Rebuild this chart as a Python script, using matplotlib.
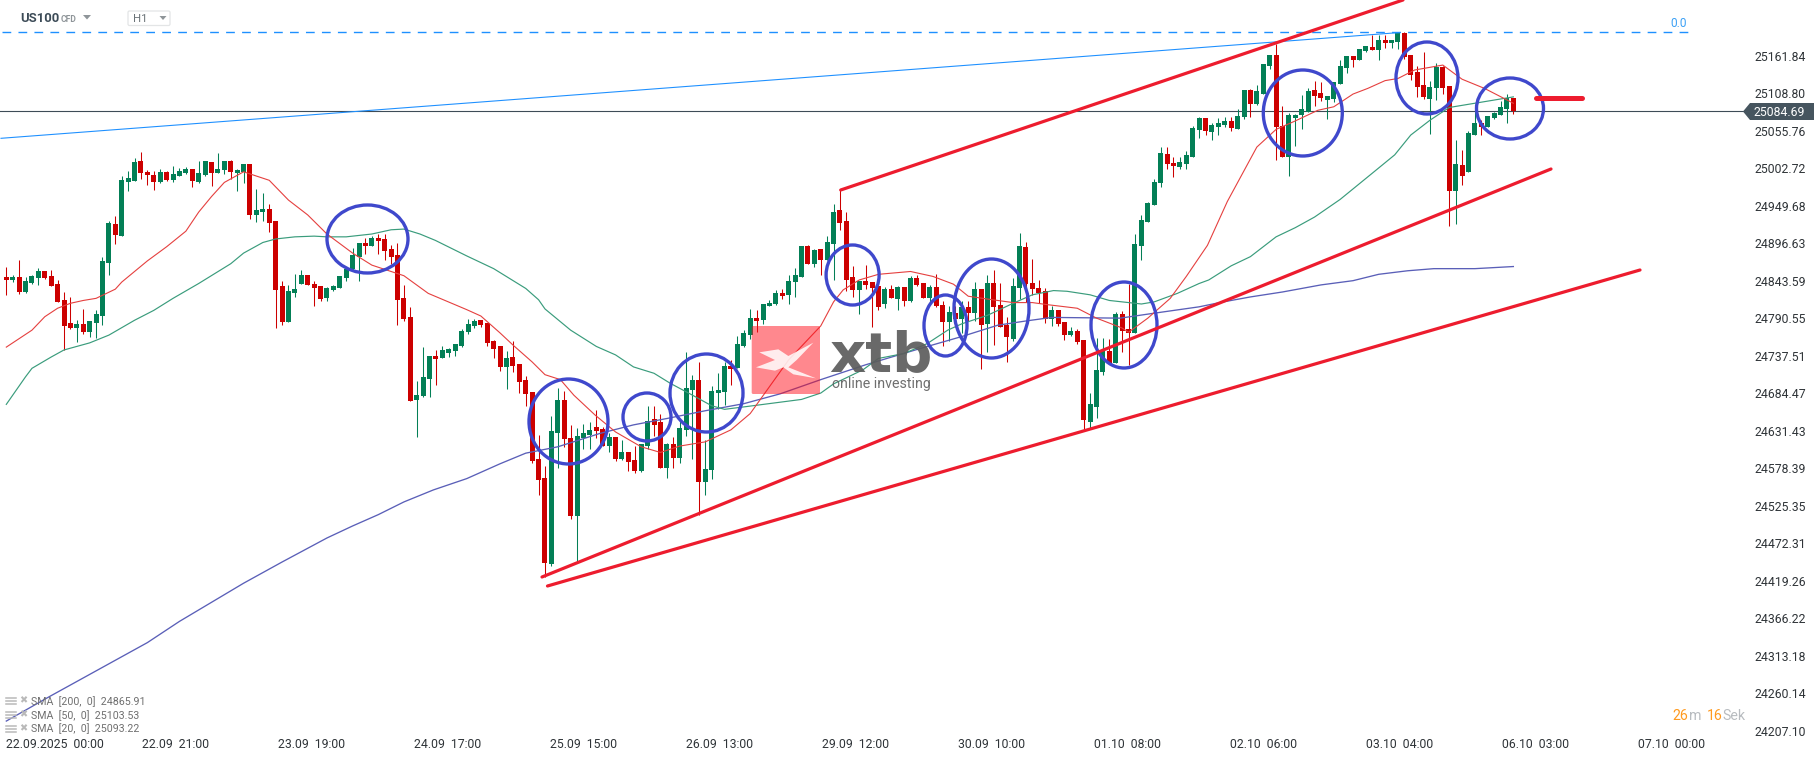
import numpy as np
import matplotlib.pyplot as plt
from matplotlib.patches import Ellipse, Polygon, FancyBboxPatch
from matplotlib.transforms import ScaledTranslation

plt.rcParams['font.family'] = ['Roboto', 'DejaVu Sans']
plt.rcParams['lines.scale_dashes'] = False

# hourly candles
opens = np.array([
    24850,24846,24850,24829,24842,24849,24859,24851,24840,24818,
    24785,24778,24784,24772,24785,24795,24870,24925,24908,24984,
    24986,25014,24999,24994,24984,24999,24987,24993,24997,25003,
    24984,24994,25013,24997,25001,25014,24997,24999,25010,24938,
    24942,24946,24929,24837,24786,24827,24840,24853,24840,24837,
    24820,24832,24834,24849,24861,24878,24898,24894,24905,24904,
    24890,24881,24820,24793,24676,24682,24706,24738,24736,24743,
    24746,24753,24772,24781,24789,24785,24760,24753,24723,24737,
    24727,24705,24688,24593,24566,24444,24630,24676,24622,24512,
    24622,24627,24638,24635,24611,24624,24593,24603,24591,24576,
    24611,24649,24645,24580,24614,24594,24634,24690,24705,24560,
    24577,24686,24688,24724,24722,24753,24768,24792,24789,24809,
    24812,24828,24825,24843,24850,24894,24869,24890,24874,24897,
    24945,24929,24850,24832,24845,24843,24837,24812,24833,24819,
    24836,24816,24849,24842,24820,24836,24811,24787,24799,24791,
    24808,24799,24833,24784,24842,24811,24782,24762,24835,24893,
    24842,24835,24830,24791,24804,24787,24768,24774,24761,24645,
    24666,24716,24746,24729,24798,24777,24771,24894,24928,24952,
    24983,25024,25011,25006,25010,25020,25058,25075,25055,25062,
    25065,25071,25059,25076,25115,25095,25109,25149,25164,25064,
    25020,25075,25079,25084,25115,25110,25100,25102,25123,25146,
    25163,25157,25170,25175,25171,25185,25181,25182,25195,25164,
    25140,25122,25102,25117,25147,25120,24972,25009,24999,25051,
    25068,25062,25075,25079,25088,25103])
highs = np.array([
    24864,24853,24874,24850,24853,24863,24859,24860,24846,24829,
    24822,24789,24805,24788,24803,24878,24929,24936,24993,25000,
    25018,25027,25001,25000,25003,25000,25007,25004,25006,25003,
    25014,25014,25013,25025,25014,25016,25003,25010,25010,24975,
    24969,24953,24929,24844,24839,24854,24860,24853,24844,24837,
    24836,24839,24851,24861,24891,24898,24905,24908,24911,24911,
    24895,24898,24839,24808,24703,24751,24738,24747,24753,24750,
    24755,24777,24791,24791,24789,24785,24761,24753,24746,24760,
    24727,24710,24688,24627,24583,24654,24693,24689,24641,24637,
    24642,24645,24662,24638,24630,24624,24620,24603,24611,24614,
    24668,24668,24656,24615,24624,24649,24744,24712,24730,24620,
    24696,24714,24730,24733,24767,24775,24805,24804,24812,24818,
    24832,24833,24853,24863,24894,24896,24890,24890,24908,24953,
    24973,24942,24866,24845,24867,24843,24837,24836,24839,24837,
    24836,24852,24853,24842,24839,24854,24816,24809,24809,24816,
    24816,24843,24833,24853,24860,24842,24794,24849,24912,24900,
    24876,24846,24835,24809,24804,24787,24779,24777,24761,24686,
    24764,24764,24762,24801,24802,24840,24911,24938,24956,24989,
    25034,25034,25020,25020,25028,25064,25076,25075,25068,25075,
    25076,25076,25088,25115,25116,25122,25151,25164,25180,25092,
    25082,25081,25108,25117,25127,25126,25106,25126,25157,25163,
    25163,25173,25177,25192,25192,25192,25185,25197,25197,25164,
    25149,25168,25127,25153,25149,25120,25044,25030,25057,25086,
    25072,25078,25083,25099,25109,25103])
lows = np.array([
    24825,24843,24826,24827,24840,24839,24847,24837,24815,24747,
    24777,24758,24769,24765,24764,24782,24853,24897,24908,24972,
    24986,24989,24980,24973,24983,24986,24984,24993,24996,24977,
    24983,24993,24979,24997,24996,24989,24972,24983,24932,24928,
    24929,24914,24778,24782,24786,24822,24840,24839,24809,24816,
    24816,24830,24834,24844,24860,24844,24883,24894,24883,24874,
    24868,24782,24788,24675,24624,24680,24680,24697,24736,24737,
    24739,24751,24770,24778,24780,24753,24736,24717,24692,24716,
    24686,24668,24587,24542,24426,24441,24580,24610,24508,24448,
    24607,24607,24622,24611,24603,24590,24591,24576,24573,24574,
    24607,24625,24580,24566,24580,24587,24625,24593,24514,24542,
    24564,24664,24669,24697,24722,24751,24763,24772,24784,24809,
    24811,24819,24812,24822,24850,24869,24864,24853,24874,24846,
    24917,24830,24822,24798,24833,24779,24803,24806,24820,24803,
    24809,24815,24837,24820,24813,24808,24753,24760,24779,24771,
    24788,24788,24720,24744,24754,24779,24730,24760,24819,24815,
    24825,24813,24785,24781,24781,24761,24767,24755,24632,24635,
    24651,24712,24729,24729,24744,24726,24771,24874,24928,24952,
    24977,25003,24992,25003,25003,25020,25047,25051,25044,25051,
    25062,25057,25059,25074,25076,25093,25109,25144,25016,25020,
    24993,25035,25059,25084,25092,25099,25074,25098,25123,25139,
    25147,25157,25168,25171,25157,25174,25174,25173,25159,25129,
    25105,25102,25052,25100,25109,24922,24925,24980,24999,25051,
    25051,25062,25074,25079,25068,25081])
closes = np.array([
    24846,24850,24829,24844,24851,24859,24849,24837,24815,24781,
    24778,24784,24772,24788,24798,24873,24926,24909,24987,24990,
    25013,24997,24994,24984,24999,24987,24996,25000,25003,24986,
    24997,25014,24997,25003,25014,24999,25001,25010,24938,24945,
    24946,24926,24832,24786,24830,24833,24853,24839,24834,24819,
    24834,24837,24851,24861,24881,24898,24894,24905,24901,24887,
    24878,24818,24791,24675,24683,24709,24738,24734,24747,24748,
    24755,24774,24784,24788,24782,24757,24748,24723,24736,24724,
    24702,24685,24590,24563,24446,24632,24676,24621,24512,24625,
    24630,24634,24632,24611,24624,24593,24603,24589,24576,24614,
    24647,24641,24580,24614,24594,24637,24693,24705,24560,24579,
    24689,24690,24724,24720,24755,24771,24792,24788,24812,24813,
    24828,24823,24845,24853,24894,24869,24888,24874,24900,24942,
    24927,24846,24832,24845,24839,24835,24808,24833,24820,24836,
    24816,24849,24839,24820,24836,24809,24787,24801,24791,24808,
    24799,24833,24782,24842,24808,24779,24765,24837,24894,24840,
    24833,24828,24791,24804,24784,24768,24774,24758,24648,24671,
    24719,24746,24729,24798,24774,24771,24897,24931,24955,24984,
    25025,25010,25007,25013,25023,25061,25075,25057,25065,25068,
    25071,25061,25078,25115,25095,25113,25151,25164,25062,25020,
    25079,25079,25088,25113,25106,25103,25106,25126,25149,25163,
    25157,25173,25177,25171,25185,25181,25185,25197,25162,25136,
    25119,25105,25119,25147,25117,24972,25010,24993,25054,25068,
    25062,25078,25082,25091,25103,25085])

# moving averages, sampled at candle numbers
sma20_idx = [0,4,6,8,10,12,14,17,18,22,25,28,30,32,34,37,41,44,47,50,
             54,57,62,65.8,71.8,74,77,79,82,84,86.4,88.5,91.8,95,99,102,105,109,113,116,
             119,122,127,129,130.5,133,136,141,144.5,147.7,150,153,157,160,162.4,167,170,174,175,178,
             181.5,184,187.3,190.4,195,198,201,204.5,207,210,212.3,215,217,219.6,224,227,230.5,235]
sma20_val = [24751,24775,24794,24806,24813,24817,24820,24833,24843,24873,24893,24915,24942,24964,24984,24999,24987,24959,24938,24911,
             24884,24867,24852,24827,24804,24795,24771,24754,24730,24712,24705,24683,24655,24631,24610,24602,24611,24617,24634,24657,
             24695,24733,24781,24815,24832,24846,24854,24858,24851,24840,24823,24819,24814,24814,24811,24806,24792,24778,24772,24792,
             24820,24851,24895,24957,25034,25059,25071,25086,25091,25109,25117,25128,25131,25143,25150,25130,25117,25096]
sma50_idx = [0,3,4,7,9,13,16,20,23,26,30,35,37,40,42,45,48,50,53,57,
             60,62,64.5,66.9,71.8,76,81,83,84,88,92,95,97.8,101,103.5,107,110,112,115.5,124,
             127,129,133.6,136,140,143.6,146.8,149,153,157,160,163.3,165.4,169,172,177,179,182.6,186,187.5,
             191,194,198,201,204,208,213,216.5,219,222,225,229,235]
sma50_val = [24670,24709,24721,24737,24747,24757,24768,24789,24803,24820,24841,24869,24884,24899,24904,24907,24908,24907,24907,24911,
             24917,24918,24911,24902,24880,24862,24834,24818,24805,24775,24752,24740,24723,24714,24700,24683,24668,24663,24667,24677,
             24686,24699,24719,24735,24742,24756,24775,24784,24796,24813,24825,24831,24830,24825,24817,24812,24815,24827,24841,24846,
             24866,24879,24907,24920,24935,24960,24997,25023,25051,25072,25090,25096,25105]
sma200_idx = [0,6.8,13,16,22,27,32,37,43,50,54,58,62,66.6,71.8,77,81,86,92.6,97.8,
              103,109,115,120.7,127,134,142.5,149,154.6,159,163,173.7,179,186,189.2,194,199,205,210,214,
              218.5,222.6,229,235]
sma200_val = [24222,24257,24288,24303,24333,24363,24390,24417,24447,24481,24498,24514,24532,24549,24565,24586,24601,24610,24629,24641,
              24650,24661,24671,24685,24705,24726,24749,24766,24782,24788,24793,24792,24799,24808,24814,24822,24829,24839,24845,24854,
              24859,24862,24862,24865]

price_ticks = [25161.84,25108.80,25055.76,25002.72,24949.68,24896.63,24843.59,24790.55,24737.51,24684.47,
               24631.43,24578.39,24525.35,24472.31,24419.26,24366.22,24313.18,24260.14,24207.10]
last_price = 25084.69
time_labels = ['22.09.2025  00:00','22.09  21:00','23.09  19:00','24.09  17:00','25.09  15:00','26.09  13:00',
               '29.09  12:00','30.09  10:00','01.10  08:00','02.10  06:00','03.10  04:00','06.10  03:00','07.10  00:00']
time_label_idx = [21.2 * k for k in range(13)]
legend_rows = ['SMA  [200,  0]  24865.91', 'SMA  [50,  0]  25103.53', 'SMA  [20,  0]  25093.22']

RED = '#cc0000'
GREEN = '#037f56'
DRAW_RED = '#ed1c2e'
CIRCLE = '#3f48cc'
LINE_BLUE = '#1e90ff'

fig = plt.figure(figsize=(18.15, 7.61), dpi=100, facecolor='white')
ax = fig.add_axes([0, 0, 1, 1])
step = 6.413
ax.set_xlim(-6.3 / step, (1815 - 6.3) / step)
scale = 1.41464
ax.set_ylim(25161.84 - (761 - 56.7) * scale, 25161.84 + 56.7 * scale)

x = np.arange(len(opens))
cols = [GREEN if c > o else RED for o, c in zip(opens, closes)]
ax.vlines(x, lows, highs, colors=cols, lw=0.75, zorder=2)
ax.bar(x, np.abs(closes - opens), bottom=np.minimum(opens, closes), width=0.78, color=cols, linewidth=0, zorder=3)

ax.plot(sma200_idx, sma200_val, color='#5a5fb8', lw=0.95, zorder=4)
ax.plot(sma50_idx, sma50_val, color='#3a9c7c', lw=0.85, zorder=4)
ax.plot(sma20_idx, sma20_val, color='#e5403f', lw=0.8, zorder=4)
ax.axhline(last_price, xmax=1745 / 1815, color='#3e4c57', lw=0.8, zorder=1)

for s in ax.spines.values():
    s.set_visible(False)
ax.yaxis.tick_right()
ax.set_yticks(price_ticks)
ax.set_yticklabels(['%.2f' % p for p in price_ticks])
ax.tick_params(axis='y', length=0, pad=-43.2, labelsize=8.8, labelcolor='#2f3438')
up = ScaledTranslation(0, 1 / 100, fig.dpi_scale_trans)
for lab in ax.get_yticklabels():
    lab.set_transform(lab.get_transform() + up)
ax.set_xticks(time_label_idx)
ax.set_xticklabels(time_labels, ha='left')
ax.tick_params(axis='x', length=0, pad=-16.2, labelsize=8.8, labelcolor='#2f3438')

# drawn things on top, in picture pixels
ov = fig.add_axes([0, 0, 1, 1], facecolor='none')
ov.set_xlim(0, 1815)
ov.set_ylim(761, 0)
ov.axis('off')

ov.plot([2, 1691], [32.3, 32.3], color=LINE_BLUE, lw=1.0, ls=(0, (6.3, 5.2)))
ov.text(1679, 23.5, '0.0', color='#3ba0f5', fontsize=8.6, ha='center', va='center')
ov.plot([1, 1400], [138.3, 32.5], color=LINE_BLUE, lw=0.78)

trend_lines = [((542, 577), (1551, 169)), ((547.5, 586), (1640, 270)), ((840.7, 190), (1403, 0))]
for a, b in trend_lines:
    ov.plot([a[0], b[0]], [a[1], b[1]], color=DRAW_RED, lw=2.3, solid_capstyle='round')
ov.plot([1536, 1582], [98.3, 98.3], color=DRAW_RED, lw=3.6, solid_capstyle='round')

circles = [(367.5, 239, 81, 68), (568.5, 421.5, 79, 85), (647, 417, 48, 48), (706.5, 393, 73, 78),
           (852.6, 275, 53, 60), (945.5, 325.5, 43, 61), (991.5, 308.5, 75, 99), (1124, 325, 66, 86),
           (1302.8, 113, 79, 86), (1427, 78, 62, 72), (1510, 108.5, 67, 61)]
for cx, cy, w, h in circles:
    ov.add_patch(Ellipse((cx, cy), w, h, fill=False, ec=CIRCLE, lw=2.4))

# xtb watermark
ov.add_patch(FancyBboxPatch((751.7, 326), 68.3, 68, boxstyle='round,pad=0,rounding_size=1.5',
                            fc='#ff0d1a', ec='none', alpha=0.49, zorder=6))
mark = np.array([(118,127),(175,118),(205,138),(280,98),(230,150),(205,172),(288,205),(220,193),
                 (190,172),(165,182),(108,172),(165,150)], dtype=float)
ov.add_patch(Polygon(np.c_[720 + mark[:, 0] / 3, 310 + mark[:, 1] / 3], fc='white', ec='none', alpha=0.85, zorder=7))
ov.text(829, 371, 'xtb', family='DejaVu Sans', weight='bold', fontsize=40.5, color='#5c5c5c', alpha=0.92,
        ha='left', va='baseline', zorder=7)
ov.text(832, 384, 'online investing', fontsize=10.2, color='#5f5f5f', alpha=0.9, ha='left', va='center', zorder=7)

# header
ov.text(20, 19, 'US100', fontsize=9.4, weight='bold', color='#3c4b57', va='center')
ov.text(60.5, 19.3, 'CFD', fontsize=6.2, weight='bold', color='#8f9599', va='center')
ov.add_patch(Polygon([(83, 15), (91, 15), (87, 19.5)], fc='#8f9599', ec='none'))
ov.add_patch(FancyBboxPatch((128, 11), 42, 14.5, boxstyle='round,pad=0,rounding_size=1.5', fc='white', ec='#e3e5e6', lw=0.9))
ov.text(133, 19.5, 'H1', fontsize=8.2, color='#6b7378', va='center')
ov.add_patch(Polygon([(159.5, 16), (166.5, 16), (163, 20)], fc='#8f9599', ec='none'))

# last price flag
ov.add_patch(Polygon([(1743, 111.5), (1750, 103), (1815, 103), (1815, 120), (1750, 120)], fc='#46555f', ec='none'))
ov.text(1779, 112.5, '%.2f' % last_price, color='white', fontsize=8.8, ha='center', va='center')

# sma legend
for row, y in zip(legend_rows, [701.2, 715.2, 729.1]):
    for dy in (-3, 0, 3):
        ov.plot([6, 16], [y - 0.5 + dy] * 2, color='#b9b9b9', lw=1.1)
    ov.text(23.5, y - 1, '\u2716', family='DejaVu Sans', fontsize=7, color='#b9b9b9', ha='center', va='center')
    ov.text(31, y, row, fontsize=7.7, color='#6f6f6f', va='center')

# countdown
for txt, xp, c, size in [('26', 1672.7, '#ff9a1f', 10.2), ('m', 1689, '#b8bcc0', 10.2),
                         ('16', 1706.7, '#ff9a1f', 10.2), ('Sek', 1722.7, '#b8bcc0', 10.2)]:
    ov.text(xp, 716, txt, color=c, fontsize=size, va='center')

fig.savefig('out.png', dpi=100)
